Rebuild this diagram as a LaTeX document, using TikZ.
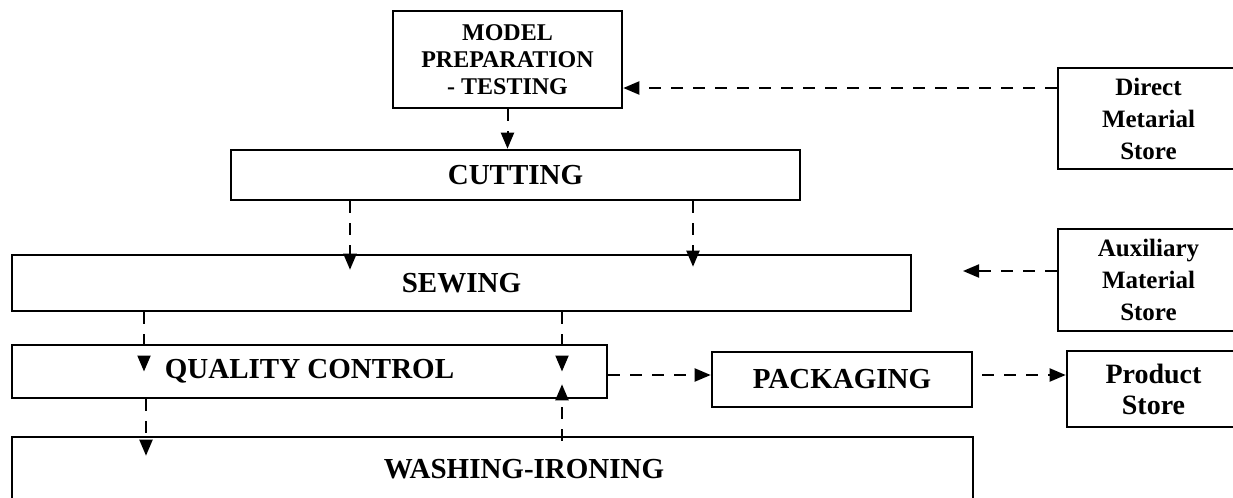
\documentclass[tikz,border=0pt]{standalone}
\usepackage{fontspec}
\setmainfont{Liberation Serif}
\usetikzlibrary{positioning, arrows.meta}

\begin{document}
\begin{tikzpicture}[x=0.5pt, y=-0.5pt, >={Triangle[length=8pt,width=6.5pt]},
    box/.style={draw, line width=1.3pt, inner sep=0pt, align=center, font=\bfseries\fontsize{14.5}{17}\selectfont},
    store/.style={box, font=\bfseries\fontsize{12.5}{16}\selectfont},
    flow/.style={->, line width=1pt, dash pattern=on 6pt off 5pt}]
    \useasboundingbox (0,0) rectangle (1233,498);

    \node[box, font=\bfseries\fontsize{12}{13.5}\selectfont, minimum width=114.5pt, minimum height=48.5pt] (model) at (507.5,59.5) {MODEL\\PREPARATION\\- TESTING};
    \node[box, minimum width=284.5pt, minimum height=25pt] (cutting) at (515.5,175) {CUTTING};
    \node[box, minimum width=449.5pt, minimum height=28pt] (sewing) at (461.5,283) {SEWING};
    \node[box, minimum width=297.5pt, minimum height=26.5pt] (qc) at (309.5,371.5) {QUALITY CONTROL};
    \node[box, minimum width=130pt, minimum height=27.5pt] (pack) at (842,379.5) {PACKAGING};
    \node[box, minimum width=480.5pt, minimum height=41.5pt] (wash) at (492.5,478.5) {};
    \node[font=\bfseries\fontsize{14.5}{17}\selectfont, inner sep=0pt] (washtext) at (524,469) {WASHING-IRONING};

    \node[store, minimum width=90.5pt, minimum height=50.5pt] (direct) at (1148.5,118.5) {Direct\\Metarial\\Store};
    \node[store, minimum width=90.5pt, minimum height=51pt] (aux) at (1148.5,280) {Auxiliary\\Material\\Store};
    \node[store, font=\bfseries\fontsize{14}{15.5}\selectfont, minimum width=86.5pt, minimum height=38pt] (prod) at (1153.5,389) {Product\\Store};

    \coordinate (auxend) at (963,271);

    % material flow
    \draw[flow] (direct.west |- 0,88) -- (model.east |- 0,88);
    \draw[flow] (model.south) -- (model.south |- cutting.north);
    \draw[flow, shorten >=-8pt] (350,0 |- cutting.south) -- (350,0 |- sewing.north);
    \draw[flow, shorten >=-6.5pt] (693,0 |- cutting.south) -- (693,0 |- sewing.north);
    \draw[flow] (aux.west |- auxend) -- (auxend);
    \draw[flow] (144,0 |- sewing.south) -- (144,0 |- qc.center);
    \draw[flow] (562,0 |- sewing.south) -- (562,0 |- qc.center);
    \draw[flow, shorten >=-10pt] (146,0 |- qc.south) -- (146,0 |- wash.north);
    \draw[flow, shorten <=-2.5pt, shorten >=-7.5pt] (562,0 |- wash.north) -- (562,0 |- qc.south);
    \draw[flow] (qc.east |- 0,375) -- (pack.west |- 0,375);
    \draw[flow, shorten <=4.5pt] (pack.east |- 0,375) -- (prod.west |- 0,375);
\end{tikzpicture}
\end{document}
